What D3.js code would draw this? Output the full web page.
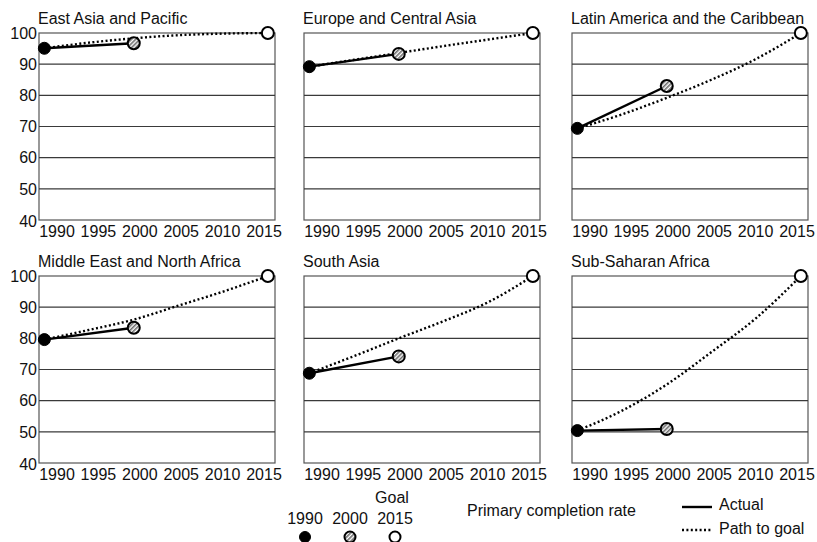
<!DOCTYPE html>
<html>
<head>
<meta charset="utf-8">
<script src="https://cdn.jsdelivr.net/npm/d3@7"></script>
<style>
  html, body { margin: 0; padding: 0; background: #fff; }
  svg { display: block; font-family: "Liberation Sans", Arial, sans-serif; }
</style>
</head>
<body>
<svg id="chart" width="817" height="542"></svg>
<script>
// Primary completion rate by region: 1990 and 2000 actual, 2015 goal, with the path to the goal
const regions = [
  "East Asia and Pacific",
  "Europe and Central Asia",
  "Latin America and the Caribbean",
  "Middle East and North Africa",
  "South Asia",
  "Sub-Saharan Africa"
];
const rate1990 = [95.1, 89.2, 69.4, 79.6, 68.8, 50.4];
const rate2000 = [96.7, 93.3, 83.0, 83.4, 74.2, 50.9];
const goal2015 = [100, 100, 100, 100, 100, 100];

// Path to goal, read at five-year steps
const pathYears = [1990, 1995, 2000, 2005, 2010, 2015];
const pathEastAsia   = [95.1, 96.9, 98.3, 99.3, 99.8, 100];
const pathEurope     = [89.2, 91.4, 93.6, 95.8, 97.9, 100];
const pathLatin      = [69.4, 73.9, 79.2, 85.0, 91.7, 100];
const pathMENA       = [79.6, 82.7, 86.0, 90.5, 95.0, 100];
const pathSouthAsia  = [68.8, 74.3, 80.0, 85.5, 91.6, 100];
const pathSSA        = [50.4, 56.8, 65.2, 75.6, 86.5, 100];
const paths = [pathEastAsia, pathEurope, pathLatin, pathMENA, pathSouthAsia, pathSSA];

const xTickLabels = ["1990", "1995", "2000", "2005", "2010", "2015"];
const yTicks = [40, 50, 60, 70, 80, 90, 100];
const markerYears = [1990, 2000, 2015];
const legendYears = ["1990", "2000", "2015"];

const svg = d3.select("#chart");

// Hatched fill for the 2000 marker
const defs = svg.append("defs");
const pat = defs.append("pattern")
  .attr("id", "hatch")
  .attr("patternUnits", "userSpaceOnUse")
  .attr("width", 3).attr("height", 3)
  .attr("patternTransform", "rotate(45)");
pat.append("rect").attr("width", 3).attr("height", 3).attr("fill", "#fff");
pat.append("rect").attr("width", 1.6).attr("height", 3).attr("fill", "#6e6e6e");

const colLeft = [39, 304, 572];
const rowTop = [33, 276];
const pw = 236, ph = 187;

const x = d3.scaleLinear().domain([1989.4, 2015.8]).range([0, pw]);
const y = d3.scaleLinear().domain([40, 100]).range([ph, 0]);
const xLab = d3.scalePoint().domain(xTickLabels).range([18, 225]);

const solid = d3.line().x(d => x(d[0])).y(d => y(d[1]));
const dotted = d3.line().x(d => x(d[0])).y(d => y(d[1])).curve(d3.curveMonotoneX);

function marker(sel, kind, r) {
  if (kind === 0) {
    sel.attr("r", r).attr("fill", "#000").attr("stroke", "#000").attr("stroke-width", 1);
  } else if (kind === 1) {
    sel.attr("r", r).attr("fill", "url(#hatch)").attr("stroke", "#000").attr("stroke-width", 2);
  } else {
    sel.attr("r", r).attr("fill", "#fff").attr("stroke", "#000").attr("stroke-width", 2);
  }
}

regions.forEach((name, i) => {
  const col = i % 3, row = Math.floor(i / 3);
  const g = svg.append("g").attr("transform", `translate(${colLeft[col]},${rowTop[row]})`);

  // frame and horizontal gridlines
  g.append("rect").attr("x", 0).attr("y", 0).attr("width", pw).attr("height", ph)
    .attr("fill", "#fff").attr("stroke", "#555").attr("stroke-width", 1.2);
  g.selectAll("line.grid").data(yTicks.slice(1, -1)).join("line")
    .attr("class", "grid")
    .attr("x1", 0).attr("x2", pw)
    .attr("y1", d => y(d)).attr("y2", d => y(d))
    .attr("stroke", "#3a3a3a").attr("stroke-width", 1.2);

  // title
  g.append("text").attr("x", -1).attr("y", -9)
    .attr("font-size", 16).attr("fill", "#111").text(name);

  // x tick labels
  g.selectAll("text.xl").data(xTickLabels).join("text")
    .attr("class", "xl")
    .attr("x", d => xLab(d)).attr("y", ph + 17)
    .attr("text-anchor", "middle").attr("font-size", 16).attr("fill", "#111")
    .text(d => d);

  // y tick labels on the first column
  if (col === 0) {
    g.selectAll("text.yl").data(yTicks).join("text")
      .attr("class", "yl")
      .attr("x", -2).attr("y", d => y(d) + (d === 40 ? 1.5 : 0)).attr("dy", "0.36em")
      .attr("text-anchor", "end").attr("font-size", 16).attr("fill", "#111")
      .text(d => d);
  }

  // path to goal
  const pathData = pathYears.map((yr, k) => [yr, paths[i][k]]);
  g.append("path").attr("d", dotted(pathData))
    .attr("fill", "none").attr("stroke", "#000")
    .attr("stroke-width", 2.4).attr("stroke-dasharray", "2,2.4");

  // actual progress
  const actual = [[1990, rate1990[i]], [2000, rate2000[i]]];
  g.append("path").attr("d", solid(actual))
    .attr("fill", "none").attr("stroke", "#000").attr("stroke-width", 2.4);

  // markers
  const vals = [rate1990[i], rate2000[i], goal2015[i]];
  markerYears.forEach((yr, k) => {
    g.append("circle").attr("cx", x(yr)).attr("cy", y(vals[k])).call(marker, k, 6);
  });
});

// Legend: markers
svg.append("text").attr("x", 392).attr("y", 503)
  .attr("text-anchor", "middle").attr("font-size", 16).attr("fill", "#111").text("Goal");
const legX = [305, 350, 395];
legendYears.forEach((t, k) => {
  svg.append("text").attr("x", legX[k]).attr("y", 524)
    .attr("text-anchor", "middle").attr("font-size", 16).attr("fill", "#111").text(t);
  svg.append("circle").attr("cx", legX[k]).attr("cy", 537).call(marker, k, 5.5);
});

svg.append("text").attr("x", 467).attr("y", 516)
  .attr("font-size", 16).attr("fill", "#111").text("Primary completion rate");

// Legend: line styles
svg.append("line").attr("x1", 682).attr("x2", 712).attr("y1", 507).attr("y2", 507)
  .attr("stroke", "#000").attr("stroke-width", 2.4);
svg.append("text").attr("x", 719).attr("y", 510)
  .attr("font-size", 16).attr("fill", "#111").text("Actual");
svg.append("line").attr("x1", 682).attr("x2", 712).attr("y1", 530).attr("y2", 530)
  .attr("stroke", "#000").attr("stroke-width", 2.4).attr("stroke-dasharray", "2,2.4");
svg.append("text").attr("x", 719).attr("y", 534)
  .attr("font-size", 16).attr("fill", "#111").text("Path to goal");
</script>
</body>
</html>
